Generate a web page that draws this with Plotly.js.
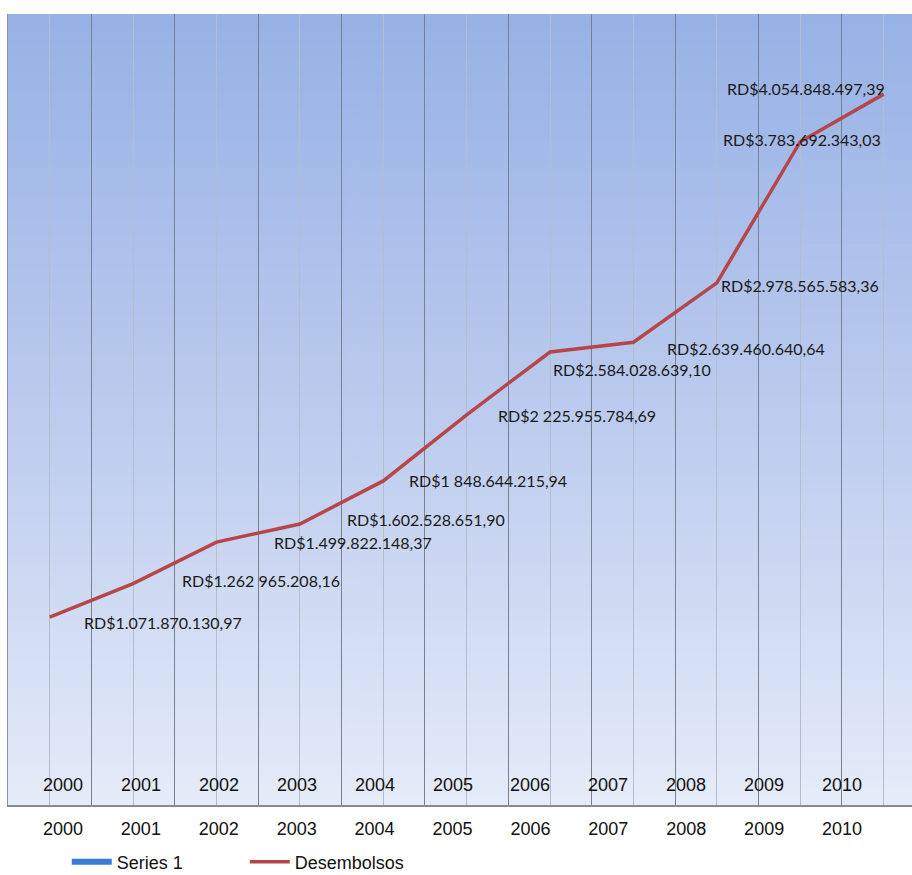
<!DOCTYPE html>
<html>
<head>
<meta charset="utf-8">
<script src="https://cdn.plot.ly/plotly-3.0.1.min.js"></script>
<style>html,body{margin:0;padding:0;background:#fff;}#chart{width:912px;height:875px;}</style>
</head>
<body>
<div id="chart"></div>
<script>
// ---- data ----
const years = ['2000','2001','2002','2003','2004','2005','2006','2007','2008','2009','2010'];
const desembolsos = [1071870130.97, 1262965208.16, 1499822148.37, 1602528651.90, 1848644215.94,
                     2225955784.69, 2584028639.10, 2639460640.64, 2978565583.36, 3783692343.03, 4054848497.39];
const valueLabels = ['RD$1.071.870.130,97','RD$1.262 965.208,16','RD$1.499.822.148,37','RD$1.602.528.651,90',
                     'RD$1 848.644.215,94','RD$2 225.955.784,69','RD$2.584.028.639,10','RD$2.639.460.640,64',
                     'RD$2.978.565.583,36','RD$3.783.692.343,03','RD$4.054.848.497,39'];
const seriesNames = ['Series 1', 'Desembolsos'];

// ---- label placement (styling) ----
const labelAnchor = ['left','left','left','left','left','left','left','left','left','center','right'];
const labelDx = [32, 47, 56, 45, 24, 29, 1, 32, 2, 2, 3];
const labelDy = [-5, 3, 0, 5, 0, -1, -18, -6, -3, 2, 6];

const idx = years.map((_, i) => i);

// gradient background image
const cv = document.createElement('canvas');
cv.width = 4; cv.height = 400;
const ctx = cv.getContext('2d');
const g = ctx.createLinearGradient(0, 0, 0, 400);
g.addColorStop(0, '#97b2e6');
g.addColorStop(0.5, '#bccbee');
g.addColorStop(1, '#e5ecf9');
ctx.fillStyle = g; ctx.fillRect(0, 0, 4, 400);
const bgURL = cv.toDataURL('image/png');

const traces = [
  {x: [null], y: [null], type: 'scatter', mode: 'lines', name: seriesNames[0],
   line: {color: '#3a7bd5', width: 6}, xaxis: 'x', yaxis: 'y', hoverinfo: 'skip'},
  {x: idx, y: desembolsos, type: 'scatter', mode: 'lines', name: seriesNames[1],
   line: {color: '#b5464a', width: 3.5}, xaxis: 'x', yaxis: 'y', hoverinfo: 'skip'}
];

const annotations = [];
desembolsos.forEach((v, i) => {
  annotations.push({
    x: idx[i], y: v, xref: 'x', yref: 'y', text: valueLabels[i], showarrow: false,
    xanchor: labelAnchor[i], yanchor: 'middle', xshift: labelDx[i], yshift: labelDy[i],
    font: {family: 'Lato, "Open Sans", sans-serif', size: 16, color: '#1a1a1a'}
  });
});
years.forEach((yr, i) => {
  annotations.push({
    x: idx[i], y: 0, xref: 'x2', yref: 'paper', text: yr, showarrow: false,
    xanchor: 'center', yanchor: 'middle', yshift: 20,
    font: {family: '"Liberation Sans", Arial, sans-serif', size: 18, color: '#111'}
  });
});

const layout = {
  width: 912, height: 875,
  margin: {l: 8, r: 0, t: 14, b: 70, pad: 0, autoexpand: false},
  paper_bgcolor: '#ffffff',
  plot_bgcolor: 'rgba(0,0,0,0)',
  showlegend: true,
  legend: {
    orientation: 'h', x: 0.065, xanchor: 'left', y: -0.072, yanchor: 'middle',
    itemwidth: 40, entrywidth: 123, entrywidthmode: 'pixels',
    font: {family: '"Liberation Sans", Arial, sans-serif', size: 18, color: '#111'},
    bgcolor: 'rgba(0,0,0,0)', traceorder: 'normal'
  },
  images: [{source: bgURL, xref: 'paper', yref: 'paper', x: 0, y: 1, sizex: 1, sizey: 1,
            xanchor: 'left', yanchor: 'top', sizing: 'stretch', layer: 'below'}],
  xaxis: {
    type: 'linear', range: [-0.5, 10.34], domain: [0, 1],
    tickmode: 'linear', tick0: -0.5, dtick: 1,
    showgrid: true, gridcolor: '#77818f', gridwidth: 1,
    minor: {tickmode: 'linear', tick0: 0, dtick: 1, showgrid: true, gridcolor: '#b3bdcc', gridwidth: 1},
    showticklabels: false, ticks: '', zeroline: false,
    showline: true, linecolor: '#8a8a8a', linewidth: 2, fixedrange: true
  },
  xaxis2: {
    type: 'linear', range: [-0.5, 10.5], domain: [0.0177, 0.9657], anchor: 'y',
    tickmode: 'array', tickvals: idx, ticktext: years,
    showgrid: false, zeroline: false, showline: false, ticks: '',
    ticklabelstandoff: 11,
    tickfont: {family: '"Liberation Sans", Arial, sans-serif', size: 18, color: '#111'},
    fixedrange: true
  },
  yaxis: {
    range: [0, 4.512e9], showgrid: false, zeroline: false, showticklabels: false, ticks: '',
    showline: true, linecolor: '#8a93a3', linewidth: 1, fixedrange: true
  },
  annotations: annotations
};

Plotly.newPlot('chart', traces, layout, {staticPlot: true, displayModeBar: false});
</script>
</body>
</html>
